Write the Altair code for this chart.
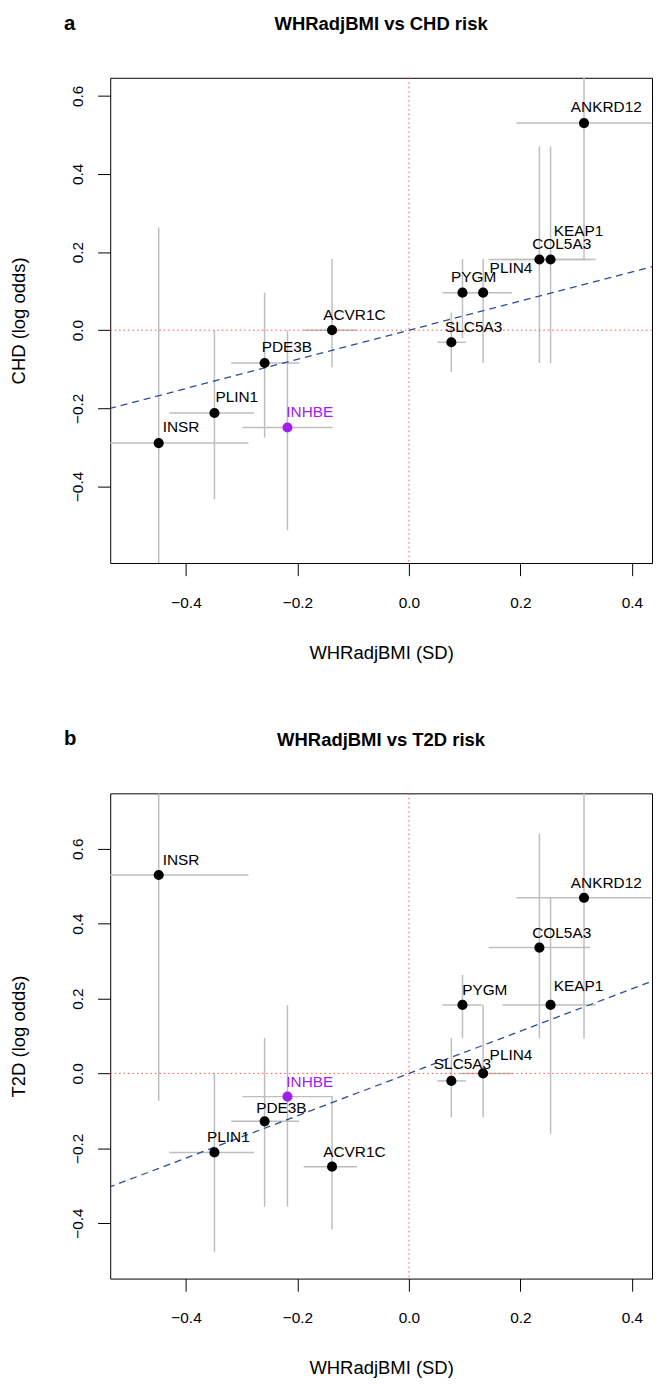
import altair as alt
import pandas as pd

# ---------------- data ----------------
genes = ["INSR", "PLIN1", "PDE3B", "INHBE", "ACVR1C", "SLC5A3",
         "PYGM", "PLIN4", "COL5A3", "KEAP1", "ANKRD12"]

whr = [-0.449, -0.349, -0.259, -0.218, -0.138, 0.076, 0.096, 0.133, 0.234, 0.254, 0.314]
whr_lo = [-0.610, -0.430, -0.319, -0.299, -0.189, 0.051, 0.060, 0.092, 0.143, 0.168, 0.193]
whr_hi = [-0.288, -0.278, -0.197, -0.137, -0.093, 0.102, 0.131, 0.185, 0.325, 0.335, 0.435]

chd = [-0.289, -0.212, -0.084, -0.249, 0.000, -0.031, 0.096, 0.096, 0.181, 0.181, 0.530]
chd_lo = [-0.841, -0.432, -0.275, -0.512, -0.095, -0.107, -0.020, -0.084, -0.084, -0.084, 0.181]
chd_hi = [0.263, 0.000, 0.096, 0.000, 0.182, 0.045, 0.182, 0.182, 0.470, 0.470, 0.879]

t2d = [0.530, -0.211, -0.128, -0.062, -0.249, -0.020, 0.183, 0.000, 0.336, 0.183, 0.469]
t2d_lo = [-0.073, -0.478, -0.356, -0.356, -0.416, -0.117, 0.094, -0.117, 0.094, -0.161, 0.094]
t2d_hi = [1.133, 0.000, 0.095, 0.182, -0.062, 0.094, 0.263, 0.183, 0.641, 0.469, 0.844]

chd_slope = 0.373
t2d_slope = 0.565

x_ticks = [-0.4, -0.2, 0.0, 0.2, 0.4]
y_ticks = [-0.4, -0.2, 0.0, 0.2, 0.4, 0.6]

# ---------------- layout / style ----------------
x_domain = [-0.536, 0.436]
chd_domain = [-0.596, 0.646]
t2d_domain = [-0.548, 0.748]

# label nudges, data units
chd_nudge_x = [0.04, 0.04, 0.04, 0.04, 0.04, 0.04, 0.02, 0.05, 0.04, 0.05, 0.04]
chd_nudge_y = [0.04, 0.04, 0.04, 0.04, 0.04, 0.04, 0.04, 0.064, 0.04, 0.074, 0.04]
t2d_nudge_x = [0.04, 0.025, 0.03, 0.04, 0.04, 0.02, 0.04, 0.05, 0.04, 0.05, 0.04]
t2d_nudge_y = [0.04, 0.04, 0.035, 0.04, 0.04, 0.045, 0.04, 0.05, 0.04, 0.05, 0.04]

W, H = 546, 489
LEFT, TOP = 102, 67.7          # extents left of / above each plot area (px)
FONT = "Liberation Sans"
PURPLE = "#A020F0"
GREY = "#BEBEBE"


def panel(letter, title, ytitle, yv, ylo, yhi, slope, ydomain, nx, ny,
          xtitle_y, bottom):
    df = pd.DataFrame({
        "gene": genes, "x": whr, "x_lo": whr_lo, "x_hi": whr_hi,
        "y": yv, "y_lo": ylo, "y_hi": yhi, "nx": nx, "ny": ny,
    })
    xs = alt.Scale(domain=x_domain, nice=False, zero=False)
    ys = alt.Scale(domain=ydomain, nice=False, zero=False)
    xaxis = alt.Axis(
        values=x_ticks, format=".1f", title="WHRadjBMI (SD)", grid=False,
        domain=False, tickSize=12.7, tickColor="black", tickWidth=1,
        labelFontSize=15.5, labelColor="black", labelPadding=20,
        labelFlush=False, labelOverlap=False, labelFont=FONT,
        titleFont=FONT, titleFontSize=18.6, titleFontWeight="normal",
        titleColor="black", titleX=W / 2, titleY=xtitle_y,
        titleBaseline="alphabetic", titleAlign="center",
    )
    yaxis = alt.Axis(
        values=y_ticks, format=".1f", title=ytitle, grid=False,
        domain=False, tickSize=12.7, tickColor="black", tickWidth=1,
        labelFontSize=15.5, labelColor="black", labelPadding=15.6,
        labelAngle=270, labelAlign="center", labelBaseline="alphabetic",
        labelFlush=False, labelOverlap=False, labelFont=FONT,
        titleFont=FONT, titleFontSize=18.6, titleFontWeight="normal",
        titleColor="black", titleX=-86.3, titleY=H / 2, titleAngle=270,
        titleBaseline="alphabetic", titleAlign="center",
    )
    base = alt.Chart(df)
    color = alt.condition(alt.datum.gene == "INHBE", alt.value(PURPLE), alt.value("black"))

    hbar = base.mark_rule(color=GREY, strokeWidth=1.5, clip=True).encode(
        x=alt.X("x_lo:Q", scale=xs, axis=xaxis),
        x2="x_hi:Q",
        y=alt.Y("y:Q", scale=ys, axis=yaxis),
    )
    vbar = base.mark_rule(color=GREY, strokeWidth=1.5, clip=True).encode(
        x="x:Q", y="y_lo:Q", y2="y_hi:Q"
    )
    zero_df = pd.DataFrame({"z": [0.0]})
    zero_v = alt.Chart(zero_df).mark_rule(
        color="#FF4D4D", strokeWidth=1, strokeDash=[1.5, 3]
    ).encode(x="z:Q")
    zero_h = alt.Chart(zero_df).mark_rule(
        color="#FF4D4D", strokeWidth=1, strokeDash=[1.5, 3]
    ).encode(y="z:Q")
    reg = alt.Chart(pd.DataFrame({"x": [-0.6, 0.5]})).transform_calculate(
        y=f"{slope} * datum.x"
    ).mark_line(color="#2F4A9A", strokeWidth=1.3, strokeDash=[7, 5], clip=True).encode(
        x="x:Q", y="y:Q"
    )
    pts = base.mark_circle(size=104, opacity=1).encode(
        x="x:Q", y="y:Q", color=color
    )
    labels = base.transform_calculate(
        lx="datum.x + datum.nx", ly="datum.y + datum.ny"
    ).mark_text(fontSize=15.5, font=FONT, align="center", baseline="middle").encode(
        x="lx:Q", y="ly:Q", text="gene:N", color=color
    )
    ttl = alt.Chart(pd.DataFrame({"t": [title]})).mark_text(
        font=FONT, fontSize=18.6, fontWeight="bold", align="center",
        baseline="alphabetic", color="black"
    ).encode(text="t:N", x=alt.value(W / 2), y=alt.value(-47.7))
    let = alt.Chart(pd.DataFrame({"t": [letter]})).mark_text(
        font=FONT, fontSize=20.5, fontWeight="bold", align="left",
        baseline="alphabetic", color="black"
    ).encode(text="t:N", x=alt.value(-46.5), y=alt.value(-48.5))
    # invisible frame that fixes the panel's outer extent
    anchor = alt.Chart(pd.DataFrame({"t": [0]})).mark_rule(
        color="white", opacity=0, strokeWidth=0.01
    ).encode(
        x=alt.value(-LEFT), x2=alt.value(-LEFT),
        y=alt.value(-TOP), y2=alt.value(H + bottom)
    )

    return alt.layer(anchor, hbar, vbar, zero_v, zero_h, reg, pts, labels, ttl, let).properties(
        width=W, height=H
    )


BOTTOM_A, BOTTOM_B = 100.5, 100
pa = panel("a", "WHRadjBMI vs CHD risk", "CHD (log odds)", chd, chd_lo, chd_hi,
           chd_slope, chd_domain, chd_nudge_x, chd_nudge_y, 96.6, BOTTOM_A)
pb = panel("b", "WHRadjBMI vs T2D risk", "T2D (log odds)", t2d, t2d_lo, t2d_hi,
           t2d_slope, t2d_domain, t2d_nudge_x, t2d_nudge_y, 95.5, BOTTOM_B)

gap = (795 - TOP) - (75.7 + H + BOTTOM_A)

chart = alt.vconcat(pa, pb, spacing=gap).resolve_scale(
    x="independent", y="independent"
).properties(
    padding={"left": 0, "top": -4, "right": 0, "bottom": 0}
).configure(
    font=FONT, background="white"
).configure_view(
    stroke="black", strokeWidth=1
)

chart.save("out.html", embed_options={"renderer": "svg", "actions": False})
